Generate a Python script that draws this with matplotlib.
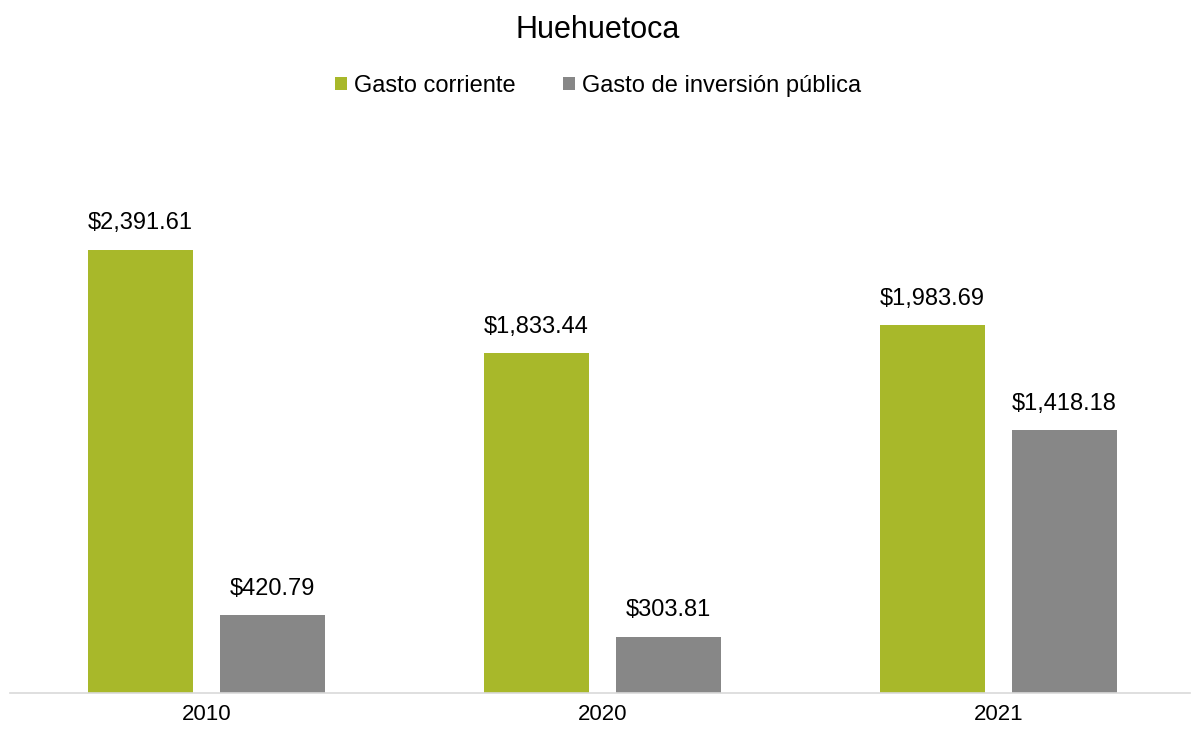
import numpy as np
import matplotlib.pyplot as plt

plt.rcParams['font.family'] = ['Liberation Sans', 'DejaVu Sans']

# data
years = ['2010', '2020', '2021']
gasto_corriente = [2391.61, 1833.44, 1983.69]
gasto_inversion = [420.79, 303.81, 1418.18]
series_names = ['Gasto corriente', 'Gasto de inversión pública']

green = '#A8B82A'
gray = '#878787'

fig = plt.figure(figsize=(11.96, 7.33), dpi=100)
ax = fig.add_axes([10 / 1196, 40 / 733, 1180 / 1196, 556 / 733])

x = np.arange(len(years))
w = 0.265
off = 0.166

b1 = ax.bar(x - off, gasto_corriente, w, color=green, label=series_names[0])
b2 = ax.bar(x + off, gasto_inversion, w, color=gray, label=series_names[1])

for bars in (b1, b2):
    for rect in bars:
        h = rect.get_height()
        ax.annotate(f"${h:,.2f}", (rect.get_x() + rect.get_width() / 2, h),
                    xytext=(0, 11), textcoords='offset points',
                    ha='center', va='bottom', fontsize=17)

ax.set_xlim(-0.496, 2.484)
ax.set_ylim(0, 3000)
ax.set_xticks(x)
ax.set_xticklabels(years, fontsize=16)
ax.tick_params(axis='x', length=0, pad=8)
ax.set_yticks([])
for s in ['top', 'right', 'left']:
    ax.spines[s].set_visible(False)
ax.spines['bottom'].set_color('#D9D9D9')
ax.spines['bottom'].set_linewidth(1.2)

fig.text(0.5, 1 - 30 / 733, 'Huehuetoca', ha='center', va='center', fontsize=22)
fig.legend(loc='center', bbox_to_anchor=(0.5, 1 - 86 / 733), ncol=2, frameon=False,
           fontsize=17, handlelength=0.5, handleheight=0.5, handletextpad=0.3,
           columnspacing=2.0)

fig.savefig('out.png', dpi=100)
